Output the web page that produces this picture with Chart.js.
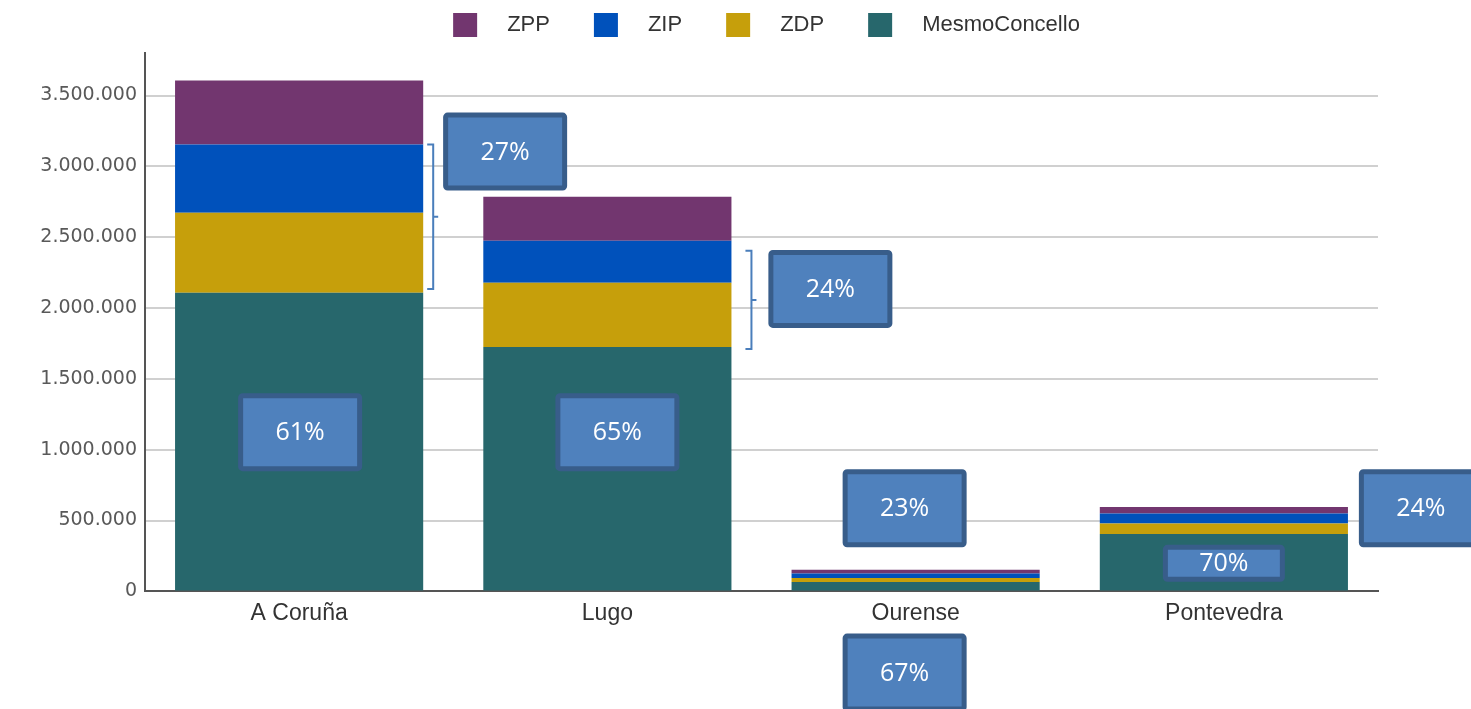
<!DOCTYPE html>
<html>
<head>
<meta charset="utf-8">
<script src="https://cdn.jsdelivr.net/npm/chart.js@4.4.1/dist/chart.umd.min.js"></script>
<style>
  body { margin: 0; background: #fff; }
  canvas { display: block; }
</style>
</head>
<body>
<canvas id="chart" width="1471" height="709"></canvas>
<script>
const categories = ['A Coruña', 'Lugo', 'Ourense', 'Pontevedra'];
const mesmoConcello = [2107000, 1725000, 66000, 405000];
const zdp = [566000, 453000, 28000, 74000];
const zip = [481000, 297000, 33000, 71000];
const zpp = [452000, 311000, 26000, 45000];
const yTickValues = [0, 500000, 1000000, 1500000, 2000000, 2500000, 3000000, 3500000];
const yMax = 3800000;

// percentage boxes laid over the chart (cat = category index, dx = px from its centre, y = value)
const callouts = [
  { text: '27%', cat: 0, dx: 206, y: 3104000, w: 124, h: 78 },
  { text: '24%', cat: 1, dx: 223, y: 2135000, w: 124, h: 78 },
  { text: '61%', cat: 0, dx: 1, y: 1124000, w: 124, h: 78 },
  { text: '65%', cat: 1, dx: 10, y: 1124000, w: 124, h: 78 },
  { text: '23%', cat: 2, dx: -11, y: 587000, w: 124, h: 78 },
  { text: '67%', cat: 2, dx: -11, y: -573000, w: 124, h: 78 },
  { text: '24%', cat: 3, dx: 197, y: 587000, w: 124, h: 78 },
  { text: '70%', cat: 3, dx: 0, y: 198000, w: 122, h: 37 }
];
const brackets = [
  { cat: 0, from: 2135000, to: 3154000, dx: 10 },
  { cat: 1, from: 1711000, to: 2404000, dx: 20 }
];

function dots(v) {
  return String(v).replace(/\B(?=(\d{3})+(?!\d))/g, '.');
}

const overlay = {
  id: 'overlay',
  afterDraw(chart) {
    const ctx = chart.ctx;
    const x = chart.scales.x;
    const y = chart.scales.y;
    const bars = chart.getDatasetMeta(0).data;

    // brackets
    ctx.save();
    ctx.strokeStyle = '#4A7EBB';
    ctx.lineWidth = 2;
    brackets.forEach(b => {
      const bx = bars[b.cat].x + bars[b.cat].width / 2 + b.dx;
      const top = y.getPixelForValue(b.to);
      const bot = y.getPixelForValue(b.from);
      const mid = (top + bot) / 2;
      ctx.beginPath();
      ctx.moveTo(bx - 6, top);
      ctx.lineTo(bx, top);
      ctx.lineTo(bx, bot);
      ctx.lineTo(bx - 6, bot);
      ctx.moveTo(bx, mid);
      ctx.lineTo(bx + 5, mid);
      ctx.stroke();
    });
    ctx.restore();

    // boxes
    ctx.save();
    callouts.forEach(c => {
      const cx = x.getPixelForValue(c.cat) + c.dx;
      const cy = y.getPixelForValue(c.y);
      const lw = 5;
      ctx.beginPath();
      ctx.roundRect(cx - c.w / 2 + lw / 2, cy - c.h / 2 + lw / 2, c.w - lw, c.h - lw, 2);
      ctx.fillStyle = '#4F81BD';
      ctx.fill();
      ctx.lineWidth = lw;
      ctx.strokeStyle = '#385D8A';
      ctx.stroke();
      ctx.fillStyle = '#ffffff';
      ctx.font = '25px "Open Sans"';
      ctx.textAlign = 'center';
      ctx.textBaseline = 'middle';
      ctx.fillText(c.text, cx, cy + 1);
    });
    ctx.restore();

    // legend, top of the stack first
    ctx.save();
    ctx.font = '22px "Liberation Sans"';
    ctx.textBaseline = 'middle';
    const items = chart.data.datasets.slice().reverse();
    const box = 24, gapText = 30, gapItem = 44;
    let total = 0;
    items.forEach((d, i) => {
      total += box + gapText + ctx.measureText(d.label).width + (i < items.length - 1 ? gapItem : 0);
    });
    const area = chart.chartArea;
    let lx = (area.left + area.right) / 2 + 5 - total / 2;
    const ly = 25;
    items.forEach(d => {
      ctx.fillStyle = d.backgroundColor;
      ctx.fillRect(lx, ly - box / 2, box, box);
      lx += box + gapText;
      ctx.fillStyle = '#333';
      ctx.fillText(d.label, lx, ly);
      lx += ctx.measureText(d.label).width + gapItem;
    });
    ctx.restore();
  }
};

const ctx = document.getElementById('chart').getContext('2d');
const myChart = new Chart(ctx, {
  type: 'bar',
  data: {
    labels: categories,
    datasets: [{
      label: 'MesmoConcello',
      data: mesmoConcello,
      backgroundColor: '#27676C'
    }, {
      label: 'ZDP',
      data: zdp,
      backgroundColor: '#C69F0B'
    }, {
      label: 'ZIP',
      data: zip,
      backgroundColor: '#0051BB'
    }, {
      label: 'ZPP',
      data: zpp,
      backgroundColor: '#72366F'
    }]
  },
  options: {
    responsive: false,
    animation: false,
    categoryPercentage: 1,
    barPercentage: 0.805,
    layout: { padding: { top: 53, right: 93, bottom: 82, left: 0 } },
    plugins: {
      legend: { display: false },
      tooltip: { enabled: false }
    },
    scales: {
      x: {
        stacked: true,
        grid: { display: false },
        border: { color: '#555', width: 2 },
        ticks: {
          color: '#333',
          padding: 0,
          font: { family: 'Liberation Sans', size: 23 }
        }
      },
      y: {
        stacked: true,
        min: 0,
        max: yMax,
        grid: { color: '#d0d0d0', lineWidth: 2, drawTicks: false },
        border: { color: '#555', width: 2 },
        ticks: {
          color: '#595959',
          padding: 8,
          font: { family: 'DejaVu Sans', size: 19 },
          callback: v => dots(v)
        },
        afterBuildTicks(scale) {
          scale.ticks = yTickValues.map(v => ({ value: v }));
        },
        afterFit(scale) { scale.width = 145; }
      }
    }
  },
  plugins: [overlay]
});
</script>
</body>
</html>
